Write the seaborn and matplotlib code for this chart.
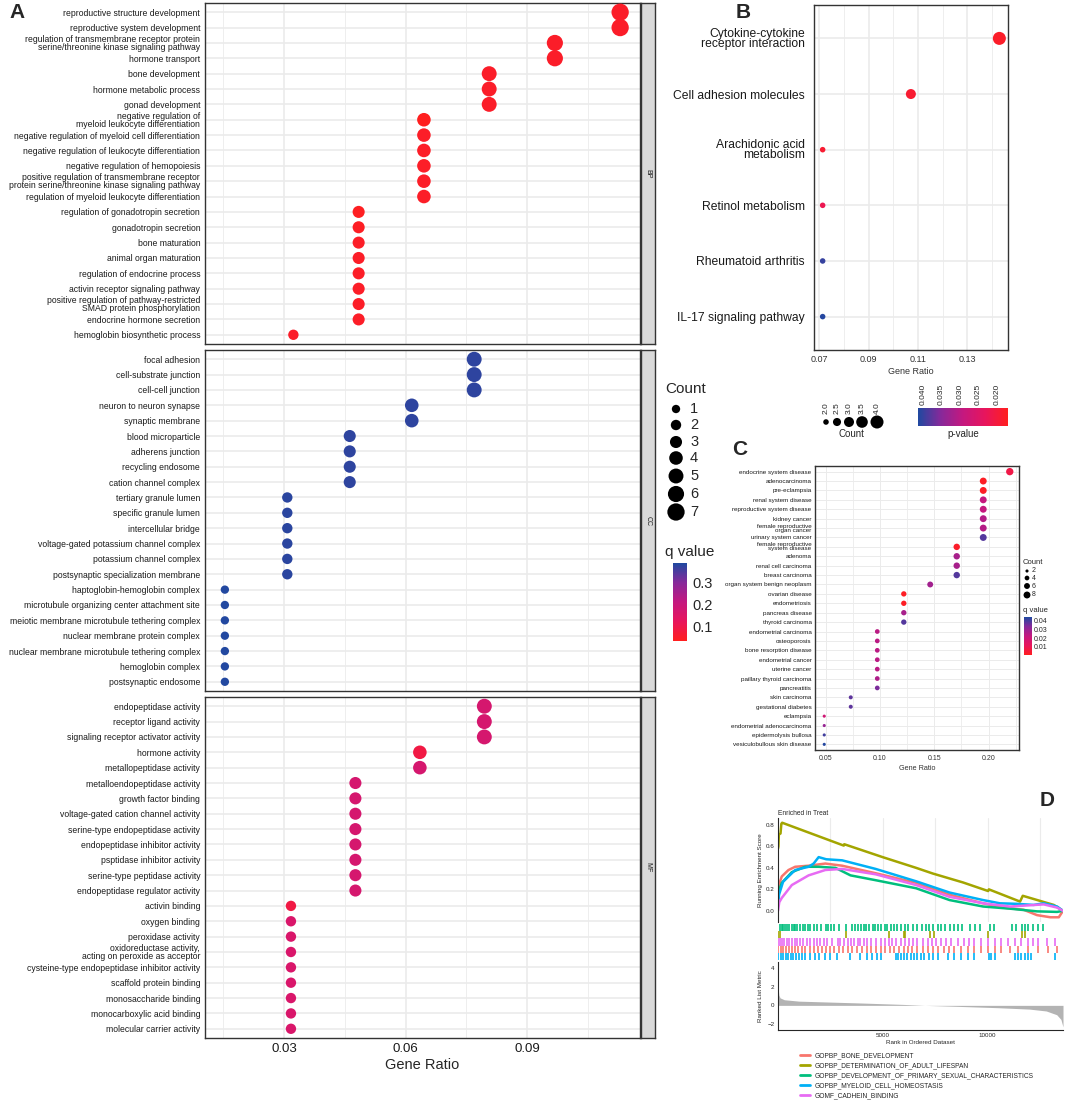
import numpy as np
import pandas as pd
import matplotlib.pyplot as plt
import seaborn as sns
from matplotlib.colors import LinearSegmentedColormap, Normalize
from matplotlib.cm import ScalarMappable
from matplotlib.lines import Line2D
from matplotlib.ticker import MultipleLocator, FormatStrFormatter

sns.set_style("white")
plt.rcParams["font.family"] = ["Liberation Sans", "DejaVu Sans"]

# ---------------- panel A : GO enrichment (BP / CC / MF) ----------------
bp_terms = ["reproductive structure development", "reproductive system development",
            "regulation of transmembrane receptor protein\nserine/threonine kinase signaling pathway",
            "hormone transport", "bone development", "hormone metabolic process", "gonad development",
            "negative regulation of\nmyeloid leukocyte differentiation",
            "negative regulation of myeloid cell differentiation",
            "negative regulation of leukocyte differentiation", "negative regulation of hemopoiesis",
            "positive regulation of transmembrane receptor\nprotein serine/threonine kinase signaling pathway",
            "regulation of myeloid leukocyte differentiation", "regulation of gonadotropin secretion",
            "gonadotropin secretion", "bone maturation", "animal organ maturation",
            "regulation of endocrine process", "activin receptor signaling pathway",
            "positive regulation of pathway-restricted\nSMAD protein phosphorylation",
            "endocrine hormone secretion", "hemoglobin biosynthetic process"]
bp_count = [7, 7, 6, 6, 5, 5, 5, 4, 4, 4, 4, 4, 4, 3, 3, 3, 3, 3, 3, 3, 3, 2]
bp_ratio = [0.1129, 0.1129, 0.0968, 0.0968, 0.0806, 0.0806, 0.0806, 0.0645, 0.0645, 0.0645, 0.0645,
            0.0645, 0.0645, 0.0484, 0.0484, 0.0484, 0.0484, 0.0484, 0.0484, 0.0484, 0.0484, 0.0323]
bp_q = [0.05, 0.05, 0.05, 0.05, 0.05, 0.05, 0.05, 0.036, 0.048, 0.048, 0.048, 0.048, 0.048,
        0.04, 0.042, 0.048, 0.048, 0.048, 0.048, 0.048, 0.048, 0.05]

cc_terms = ["focal adhesion", "cell-substrate junction", "cell-cell junction", "neuron to neuron synapse",
            "synaptic membrane", "blood microparticle", "adherens junction", "recycling endosome",
            "cation channel complex", "tertiary granule lumen", "specific granule lumen",
            "intercellular bridge", "voltage-gated potassium channel complex", "potassium channel complex",
            "postsynaptic specialization membrane", "haptoglobin-hemoglobin complex",
            "microtubule organizing center attachment site", "meiotic membrane microtubule tethering complex",
            "nuclear membrane protein complex", "nuclear membrane microtubule tethering complex",
            "hemoglobin complex", "postsynaptic endosome"]
cc_count = [5, 5, 5, 4, 4, 3, 3, 3, 3, 2, 2, 2, 2, 2, 2, 1, 1, 1, 1, 1, 1, 1]
cc_ratio = [0.0769, 0.0769, 0.0769, 0.0615, 0.0615, 0.0462, 0.0462, 0.0462, 0.0462, 0.0308, 0.0308,
            0.0308, 0.0308, 0.0308, 0.0308, 0.0154, 0.0154, 0.0154, 0.0154, 0.0154, 0.0154, 0.0154]
cc_q = [0.375, 0.375, 0.375, 0.375, 0.375, 0.375, 0.375, 0.375, 0.375, 0.378, 0.378, 0.378, 0.378,
        0.378, 0.378, 0.385, 0.385, 0.385, 0.385, 0.385, 0.385, 0.385]

mf_terms = ["endopeptidase activity", "receptor ligand activity", "signaling receptor activator activity",
            "hormone activity", "metallopeptidase activity", "metalloendopeptidase activity",
            "growth factor binding", "voltage-gated cation channel activity",
            "serine-type endopeptidase activity", "endopeptidase inhibitor activity",
            "psptidase inhibitor activity", "serine-type peptidase activity",
            "endopeptidase regulator activity", "activin binding", "oxygen binding", "peroxidase activity",
            "oxidoreductase activity,\nacting on peroxide as acceptor",
            "cysteine-type endopeptidase inhibitor activity", "scaffold protein binding",
            "monosaccharide binding", "monocarboxylic acid binding", "molecular carrier activity"]
mf_count = [5, 5, 5, 4, 4, 3, 3, 3, 3, 3, 3, 3, 3, 2, 2, 2, 2, 2, 2, 2, 2, 2]
mf_ratio = [0.0794, 0.0794, 0.0794, 0.0635, 0.0635, 0.0476, 0.0476, 0.0476, 0.0476, 0.0476, 0.0476,
            0.0476, 0.0476, 0.0317, 0.0317, 0.0317, 0.0317, 0.0317, 0.0317, 0.0317, 0.0317, 0.0317]
mf_q = [0.17, 0.17, 0.17, 0.09, 0.17, 0.17, 0.17, 0.17, 0.17, 0.17, 0.17, 0.17, 0.17,
        0.09, 0.16, 0.16, 0.16, 0.16, 0.16, 0.16, 0.16, 0.16]

# ---------------- panel B : KEGG ----------------
kegg_terms = ["Cytokine-cytokine\nreceptor interaction", "Cell adhesion molecules",
              "Arachidonic acid\nmetabolism", "Retinol metabolism", "Rheumatoid arthritis",
              "IL-17 signaling pathway"]
kegg_count = [4, 3, 2, 2, 2, 2]
kegg_ratio = [0.1429, 0.1071, 0.0714, 0.0714, 0.0714, 0.0714]
kegg_p = [0.018, 0.019, 0.019, 0.022, 0.040, 0.041]

# ---------------- panel C : disease ontology ----------------
do_terms = ["endocrine system disease", "adenocarcinoma", "pre-eclampsia", "renal system disease",
            "reproductive system disease", "kidney cancer", "female reproductive\norgan cancer",
            "urinary system cancer", "female reproductive\nsystem disease", "adenoma",
            "renal cell carcinoma", "breast carcinoma", "organ system benign neoplasm", "ovarian disease",
            "endometriosis", "pancreas disease", "thyroid carcinoma", "endometrial carcinoma",
            "osteoporosis", "bone resorption disease", "endometrial cancer", "uterine cancer",
            "paillary thyroid carcinoma", "pancreatitis", "skin carcinoma", "gestational diabetes",
            "eclampsia", "endometrial adenocarcinoma", "epidermolysis bullosa",
            "vesiculobullous skin disease"]
do_count = [9, 8, 8, 8, 8, 8, 8, 8, 7, 7, 7, 7, 6, 5, 5, 5, 5, 4, 4, 4, 4, 4, 4, 4, 3, 3, 2, 2, 2, 2]
do_ratio = [0.2195, 0.1951, 0.1951, 0.1951, 0.1951, 0.1951, 0.1951, 0.1951, 0.1707, 0.1707, 0.1707,
            0.1707, 0.1463, 0.1220, 0.1220, 0.1220, 0.1220, 0.0976, 0.0976, 0.0976, 0.0976, 0.0976,
            0.0976, 0.0976, 0.0732, 0.0732, 0.0488, 0.0488, 0.0488, 0.0488]
do_q = [0.008, 0.002, 0.002, 0.022, 0.022, 0.025, 0.025, 0.038, 0.003, 0.027, 0.027, 0.038, 0.028,
        0.002, 0.002, 0.027, 0.038, 0.024, 0.024, 0.024, 0.024, 0.024, 0.026, 0.034, 0.037, 0.037,
        0.019, 0.030, 0.040, 0.043]

# ---------------- panel D : GSEA ----------------
gsea_sets = ["GOPBP_BONE_DEVELOPMENT", "GOPBP_DETERMINATION_OF_ADULT_LIFESPAN",
             "GOPBP_DEVELOPMENT_OF_PRIMARY_SEXUAL_CHARACTERISTICS", "GOPBP_MYELOID_CELL_HOMEOSTASIS",
             "GOMF_CADHEIN_BINDING"]
gsea_colors = ["#F8766D", "#A3A500", "#00BF7D", "#00B0F6", "#E76BF3"]

es_bone_rank = [0, 60, 180, 500, 820, 1460, 2260, 3060, 4660, 6590, 6830, 8190, 9790, 10750, 11720,
                12360, 13000, 13400, 13600]
es_bone = [0.15, 0.25, 0.32, 0.38, 0.41, 0.42, 0.44, 0.42, 0.35, 0.26, 0.24, 0.15, 0.07, 0.03, 0.01,
           -0.04, -0.06, -0.06, 0.0]
es_life_rank = [0, 20, 40, 120, 160, 200, 3140, 3160, 4990, 6590, 7390, 8830, 10030, 10060, 11550,
                11680, 13160, 13600]
es_life = [0.58, 0.60, 0.71, 0.72, 0.81, 0.82, 0.607, 0.62, 0.50, 0.40, 0.347, 0.264, 0.184, 0.20,
           0.086, 0.14, 0.055, 0.0]
es_sex_rank = [0, 30, 180, 660, 1300, 1940, 2740, 3460, 4660, 6590, 8190, 9790, 11070, 12360, 13320,
               13600]
es_sex = [0.09, 0.18, 0.26, 0.36, 0.41, 0.41, 0.40, 0.33, 0.285, 0.21, 0.10, 0.04, 0.02, -0.005,
          -0.01, 0.0]
es_mye_rank = [0, 50, 240, 820, 1460, 1700, 1940, 2300, 3060, 4660, 6590, 8190, 9790, 10590, 11390,
               12200, 12680, 13320, 13600]
es_mye = [0.055, 0.15, 0.27, 0.38, 0.41, 0.44, 0.50, 0.48, 0.47, 0.39, 0.275, 0.17, 0.10, 0.07, 0.065,
          0.055, 0.07, 0.04, 0.0]
es_cad_rank = [0, 60, 180, 660, 1460, 2260, 3060, 4660, 6590, 8190, 9790, 11070, 11880, 12680, 13320,
               13600]
es_cad = [0.0, 0.08, 0.12, 0.24, 0.33, 0.38, 0.39, 0.34, 0.24, 0.13, 0.07, 0.04, 0.05, 0.06, 0.03, 0.0]

hits_sex = [100, 180, 260, 350, 450, 540, 660, 740, 830, 930, 1060, 1180, 1300, 1410, 1540, 1700, 1860,
            2050, 2270, 2400, 2530, 2690, 2910, 3260, 3550, 3680, 3810, 3940, 4100, 4220, 4350, 4510,
            4640, 4770, 4930, 5090, 5220, 5410, 5540, 5700, 5860, 6050, 6180, 6420, 6620, 6850, 7040,
            7220, 7420, 7620, 7780, 7970, 8220, 8420, 8610, 8770, 9140, 9380, 9620, 10100, 10300,
            11170, 11380, 11620, 11780, 11940, 12180, 12420, 12660]
hits_life = [20, 100, 3260, 5300, 6020, 6050, 7250, 7460, 10020, 11660, 11780]
hits_cad = [16, 96, 192, 288, 416, 544, 672, 800, 928, 1056, 1216, 1376, 1536, 1696, 1856, 2016, 2208,
            2336, 2576, 2848, 2976, 3136, 3328, 3488, 3648, 3808, 3936, 4096, 4256, 4416, 4656, 4896,
            5088, 5296, 5456, 5616, 5856, 6048, 6256, 6464, 6656, 6896, 7136, 7328, 7536, 7776, 8016,
            8256, 8576, 8896, 9136, 9376, 9696, 10016, 10336, 10656, 10976, 11296, 11616, 11936,
            12176, 12416, 12816, 13216]
hits_bone = [16, 128, 256, 384, 512, 656, 800, 960, 1136, 1296, 1504, 1696, 1888, 2096, 2304, 2496,
             2688, 2896, 3104, 3328, 3536, 3776, 4016, 4224, 4448, 4656, 4896, 5088, 5344, 5536, 5776,
             6016, 6208, 6416, 6656, 6896, 7136, 7376, 7616, 7904, 8176, 8416, 8736, 9056, 9376, 9696,
             10016, 10336, 10656, 11056, 11456, 11936, 12416, 12896, 13296]
hits_mye = [16, 128, 256, 384, 496, 608, 736, 864, 1024, 1136, 1296, 1504, 1776, 1936, 2256, 2496,
            2816, 3456, 3936, 4224, 4496, 4704, 4896, 5616, 5728, 5856, 6016, 6176, 6336, 6496, 6656,
            6816, 6976, 7216, 7376, 7616, 8096, 8416, 8736, 9056, 9376, 10048, 10176, 10336, 11296,
            11456, 11616, 11776, 11936, 12096, 13216]

metric_rank = [0, 10, 40, 100, 300, 1000, 2500, 4000, 6000, 7000, 8500, 10500, 12000, 12800, 13300,
               13500, 13600]
metric_val = [4.3, 1.8, 1.1, 0.8, 0.6, 0.45, 0.35, 0.25, 0.1, 0.0, -0.1, -0.25, -0.4, -0.6, -1.0,
              -1.5, -2.3]

# ---------------- layout helpers ----------------
W, H = 1065, 1104
fig = plt.figure(figsize=(W / 100, H / 100), dpi=100)


def px_axes(x0, y0, x1, y1):
    return fig.add_axes([x0 / W, 1 - y1 / H, (x1 - x0) / W, (y1 - y0) / H])


GRID = "#EBEBEB"
FRAME = "#333333"
cmap = LinearSegmentedColormap.from_list(
    "rb", ["#ff1f1f", "#e8155c", "#c4187f", "#86299a", "#1f49a0"])


def dot_panel(ax, terms, ratio, count, val, hue_norm, sizes, size_norm, xlim, minor):
    df = pd.DataFrame({"term": terms, "ratio": ratio, "count": count, "val": val})
    sns.scatterplot(data=df, x="ratio", y="term", hue="val", size="count", palette=cmap,
                    hue_norm=hue_norm, sizes=sizes, size_norm=size_norm, linewidth=0,
                    legend=False, ax=ax, zorder=3)
    ax.set_xlim(*xlim)
    ax.set_ylim(len(terms) - 0.4, -0.6)
    ax.xaxis.set_minor_locator(MultipleLocator(minor))
    ax.grid(which="major", color=GRID, lw=1.2, zorder=0)
    ax.grid(which="minor", axis="x", color=GRID, lw=0.6, zorder=0)
    ax.set_axisbelow(True)
    for s in ax.spines.values():
        s.set_color(FRAME)
        s.set_linewidth(1.0)
    ax.tick_params(length=2.5, width=0.7, color=FRAME, pad=1)
    ax.set_xlabel("")
    ax.set_ylabel("")


# ---------------- panel A ----------------
facets = [("BP", bp_terms, bp_ratio, bp_count, bp_q, 3, 344),
          ("CC", cc_terms, cc_ratio, cc_count, cc_q, 350, 691),
          ("MF", mf_terms, mf_ratio, mf_count, mf_q, 697, 1038)]
a_norm = (0.035, 0.388)
a_sizes = (36, 155)
for name, terms, ratio, count, q, y0, y1 in facets:
    ax = px_axes(205, y0, 640, y1)
    dot_panel(ax, terms, ratio, count, q, a_norm, a_sizes, (1, 7), (0.0105, 0.1178), 0.015)
    ax.set_xticks([0.03, 0.06, 0.09])
    for t in ax.get_yticklabels():
        t.set_fontsize(6.2)
        t.set_linespacing(0.85)
        t.set_color("#1a1a1a")
    if name == "MF":
        ax.tick_params(axis="x", labelsize=9.5, labelcolor="#1a1a1a")
        ax.set_xlabel("Gene Ratio", fontsize=10.5, labelpad=2)
    else:
        ax.tick_params(axis="x", labelbottom=False)
    # facet strip
    sax = px_axes(641, y0, 655, y1)
    sax.set_facecolor("#D9D9D9")
    sax.set_xticks([])
    sax.set_yticks([])
    for s in sax.spines.values():
        s.set_color(FRAME)
        s.set_linewidth(1.0)
    sax.text(0.5, 0.5, name, rotation=-90, ha="center", va="center", fontsize=5,
             color="#1a1a1a", transform=sax.transAxes)

# legend for A
lax = px_axes(660, 375, 745, 530)
lax.set_xlim(660, 745)
lax.set_ylim(530, 375)
lax.axis("off")
a_levels = [1, 2, 3, 4, 5, 6, 7]
a_leg_y = [409, 425, 442, 458, 476, 494, 512]
sns.scatterplot(x=[676] * 7, y=a_leg_y, size=a_levels, sizes=a_sizes, size_norm=(1, 7),
                color="black", linewidth=0, legend=False, ax=lax)
for lv, yy in zip(a_levels, a_leg_y):
    lax.text(690, yy, str(lv), fontsize=10.5, va="center", ha="left")
lax.text(665, 389, "Count", fontsize=11, va="center", ha="left")
fig.text(665 / W, 1 - 552 / H, "q value", fontsize=11, va="center", ha="left")
cax = px_axes(673, 563, 687, 641)
cb = fig.colorbar(ScalarMappable(norm=Normalize(*a_norm), cmap=cmap), cax=cax)
cb.outline.set_visible(False)
cb.set_ticks([0.1, 0.2, 0.3])
cax.tick_params(direction="in", length=3, color="white", width=0.8, labelsize=10.5, pad=4)

# ---------------- panel B ----------------
bx = px_axes(814, 5, 1008, 350)
b_norm = (0.017, 0.0414)
b_sizes = (16, 88)
dot_panel(bx, kegg_terms, kegg_ratio, kegg_count, kegg_p, b_norm, b_sizes, (2, 4),
          (0.0679, 0.1464), 0.01)
bx.set_xticks([0.07, 0.09, 0.11, 0.13])
bx.tick_params(axis="x", labelsize=6.5, labelcolor="#333333")
bx.tick_params(axis="y", labelsize=8.7, labelcolor="#1a1a1a", pad=4)
for t in bx.get_yticklabels():
    t.set_linespacing(0.8)
bx.set_xlabel("Gene Ratio", fontsize=6.5, labelpad=2, color="#333333")

blx = px_axes(815, 385, 890, 440)
blx.set_xlim(815, 890)
blx.set_ylim(440, 385)
blx.axis("off")
b_levels = [2.0, 2.5, 3.0, 3.5, 4.0]
b_leg_x = [826, 837, 849, 862, 877]
sns.scatterplot(x=b_leg_x, y=[422] * 5, size=b_levels, sizes=b_sizes, size_norm=(2, 4),
                color="black", linewidth=0, legend=False, ax=blx)
for lv, xx in zip(b_levels, b_leg_x):
    blx.text(xx, 414, f"{lv:.1f}", rotation=90, fontsize=6, ha="center", va="bottom")
blx.text(851, 434, "Count", fontsize=7, ha="center", va="center")

bcax = px_axes(918, 408, 1008, 426)
bcb = fig.colorbar(ScalarMappable(norm=Normalize(*b_norm), cmap=cmap), cax=bcax,
                   orientation="horizontal")
bcb.outline.set_visible(False)
bcax.invert_xaxis()
bcb.set_ticks([0.040, 0.035, 0.030, 0.025, 0.020])
bcax.xaxis.set_major_formatter(FormatStrFormatter("%.3f"))
bcax.xaxis.set_ticks_position("top")
bcax.tick_params(direction="in", length=2.5, color="white", width=0.7, labelsize=6, pad=2,
                 labelrotation=90)
fig.text(963 / W, 1 - 434 / H, "p-value", fontsize=7, ha="center", va="center")

# ---------------- panel C ----------------
cx = px_axes(815, 466, 1019, 750)
c_norm = (0.001, 0.0435)
c_sizes = (5, 28)
dot_panel(cx, do_terms, do_ratio, do_count, do_q, c_norm, c_sizes, (2, 9), (0.0403, 0.228), 0.025)
cx.set_xticks([0.05, 0.10, 0.15, 0.20])
cx.xaxis.set_major_formatter(FormatStrFormatter("%.2f"))
cx.tick_params(axis="x", labelsize=5, labelcolor="#333333")
cx.tick_params(axis="y", labelsize=4.5, labelcolor="#1a1a1a", length=1.5)
for t in cx.get_yticklabels():
    t.set_linespacing(0.75)
cx.grid(which="major", color=GRID, lw=0.7)
cx.set_xlabel("Gene Ratio", fontsize=5.2, labelpad=2, color="#333333")

clx = px_axes(1020, 555, 1060, 600)
clx.set_xlim(1020, 1060)
clx.set_ylim(600, 555)
clx.axis("off")
c_levels = [2, 4, 6, 8]
c_leg_y = [571, 578, 586, 595]
sns.scatterplot(x=[1027] * 4, y=c_leg_y, size=c_levels, sizes=c_sizes, size_norm=(2, 9),
                color="black", linewidth=0, legend=False, ax=clx)
for lv, yy in zip(c_levels, c_leg_y):
    clx.text(1032, yy, str(lv), fontsize=5, va="center", ha="left")
clx.text(1023, 562, "Count", fontsize=5.5, va="center", ha="left")
fig.text(1023 / W, 1 - 611 / H, "q value", fontsize=5.5, va="center", ha="left")
ccax = px_axes(1024, 617, 1032, 655)
ccb = fig.colorbar(ScalarMappable(norm=Normalize(*c_norm), cmap=cmap), cax=ccax)
ccb.outline.set_visible(False)
ccb.set_ticks([0.01, 0.02, 0.03, 0.04])
ccax.tick_params(direction="in", length=1.5, color="white", width=0.5, labelsize=5, pad=1)

# ---------------- panel D ----------------
es_df = pd.concat([
    pd.DataFrame({"rank": r, "es": e, "set": s})
    for r, e, s in zip([es_bone_rank, es_life_rank, es_sex_rank, es_mye_rank, es_cad_rank],
                       [es_bone, es_life, es_sex, es_mye, es_cad], gsea_sets)])
pal = dict(zip(gsea_sets, gsea_colors))

dx = px_axes(778, 818, 1063, 922)
sns.lineplot(data=es_df, x="rank", y="es", hue="set", palette=pal, hue_order=gsea_sets,
             estimator=None, sort=False, lw=1.8, legend=False, ax=dx)
dx.set_xlim(0, 13600)
dx.set_ylim(-0.104, 0.864)
dx.set_xticks([5000, 10000])
dx.xaxis.set_minor_locator(MultipleLocator(2500))
dx.grid(which="both", axis="x", color=GRID, lw=0.8)
dx.set_axisbelow(True)
dx.tick_params(axis="x", bottom=False, labelbottom=False)
dx.set_yticks([0.0, 0.2, 0.4, 0.6, 0.8])
dx.tick_params(axis="y", labelsize=4.5, length=1.5, width=0.5, pad=1)
for side in ["top", "right", "bottom"]:
    dx.spines[side].set_visible(False)
dx.spines["left"].set_linewidth(0.8)
dx.set_xlabel("")
dx.set_ylabel("Running Enrichment Score", fontsize=4.5, labelpad=2)
dx.set_title("Enriched in Treat", fontsize=4.8, loc="left", pad=2)

hx = px_axes(778, 924, 1063, 960)
hits = [hits_sex, hits_life, hits_cad, hits_bone, hits_mye]
hit_cols = [gsea_colors[2], gsea_colors[1], gsea_colors[4], gsea_colors[0], gsea_colors[3]]
for i, (h, c) in enumerate(zip(hits, hit_cols)):
    hx.vlines(h, i, i + 1, color=c, lw=1.2)
hx.set_xlim(0, 13600)
hx.set_ylim(5, 0)
hx.axis("off")

mx = px_axes(778, 962, 1063, 1030)
mx.fill_between(metric_rank, metric_val, 0, color="#B3B3B3", lw=0)
mx.set_xlim(0, 13600)
mx.set_ylim(-2.63, 4.63)
mx.set_xticks([5000, 10000])
mx.set_yticks([-2, 0, 2, 4])
mx.tick_params(labelsize=4.5, length=1.5, width=0.5, pad=1)
for side in ["top", "right"]:
    mx.spines[side].set_visible(False)
for side in ["left", "bottom"]:
    mx.spines[side].set_linewidth(0.8)
mx.set_xlabel("Rank in Ordered Dataset", fontsize=4.5, labelpad=1)
mx.set_ylabel("Ranked List Metric", fontsize=4.5, labelpad=3)

handles = [Line2D([], [], color=c, lw=2) for c in gsea_colors]
fig.legend(handles, gsea_sets, loc="upper left", bbox_to_anchor=(797 / W, 1 - 1050 / H),
           frameon=False, fontsize=4.8, handlelength=1.5, labelspacing=0.45, handletextpad=0.8,
           borderaxespad=0)

# panel letters
for letter, x, y in [("A", 17, 12), ("B", 743, 12), ("C", 740, 450), ("D", 1047, 800)]:
    fig.text(x / W, 1 - y / H, letter, fontsize=15, fontweight="bold", ha="center", va="center")

fig.savefig("out.png", dpi=100)
